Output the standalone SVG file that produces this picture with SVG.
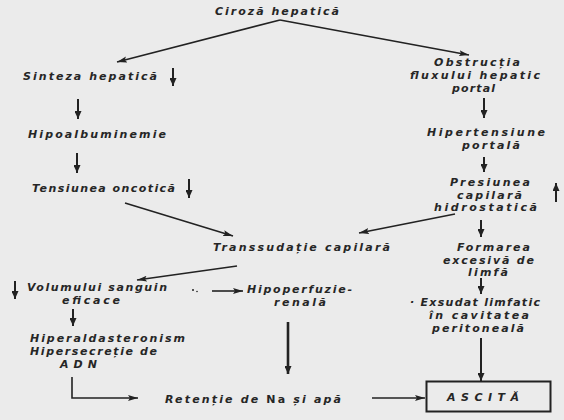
<svg xmlns="http://www.w3.org/2000/svg" width="564" height="420" viewBox="0 0 564 420">
<defs>
<marker id="ah" markerUnits="userSpaceOnUse" markerWidth="11" markerHeight="7" refX="10" refY="3.5" orient="auto">
<path d="M0,0.5 L10,3.5 L0,6.5 L2,3.5 z" fill="#222"/>
</marker>
<marker id="ahs" markerUnits="userSpaceOnUse" markerWidth="9" markerHeight="7" refX="8" refY="3.5" orient="auto">
<path d="M0,0 L8,3.5 L0,7 z" fill="#222"/>
</marker>
<style>
text{font-family:"DejaVu Sans","Liberation Sans",sans-serif;font-style:oblique;font-weight:bold;font-size:11px;fill:#262626;}
.c{stroke:#222;stroke-width:1.6;fill:none;}
.t{stroke:#222;stroke-width:2;fill:none;}
.k{stroke:#222;stroke-width:2.6;fill:none;}
.up{font-style:normal;}
</style>
</defs>
<rect width="564" height="420" fill="#ebebeb"/>

<g id="ciroza"><text x="215" y="15" textLength="124" lengthAdjust="spacing">Ciroză hepatică</text></g>

<g id="sinteza"><text x="23" y="80" textLength="134" lengthAdjust="spacing">Sinteza hepatică</text>
<line class="t" x1="173" y1="68" x2="173" y2="86" marker-end="url(#ahs)"/></g>

<g id="hipoalb"><text x="28" y="138" textLength="138" lengthAdjust="spacing">Hipoalbuminemie</text></g>

<g id="tensiunea"><text x="32" y="192" textLength="143" lengthAdjust="spacing">Tensiunea oncotică</text>
<line class="t" x1="189" y1="179" x2="189" y2="198" marker-end="url(#ahs)"/></g>

<g id="transsudatie"><text x="213" y="251" textLength="177" lengthAdjust="spacing">Transsudație capilară</text></g>

<g id="volumul"><text x="27" y="291" textLength="140" lengthAdjust="spacing">Volumului sanguin</text>
<text x="62" y="304" textLength="58" lengthAdjust="spacing">eficace</text>
<line class="t" x1="15" y1="281" x2="15" y2="299" marker-end="url(#ahs)"/></g>

<g id="hipoperfuzie"><text x="247" y="293" textLength="105" lengthAdjust="spacing">Hipoperfuzie-</text>
<text x="274" y="306" textLength="52" lengthAdjust="spacing">renală</text></g>

<g id="hiperald"><text x="30" y="342" textLength="155" lengthAdjust="spacing">Hiperaldasteronism</text>
<text x="30" y="355" textLength="127" lengthAdjust="spacing">Hipersecreție de</text>
<text x="60" y="368" textLength="37" lengthAdjust="spacing">ADN</text></g>

<g id="retentie"><text x="165" y="403" textLength="176" lengthAdjust="spacing">Retenție de <tspan class="up">Na</tspan> și apă</text></g>

<g id="obstructia"><text x="434" y="66" textLength="86" lengthAdjust="spacing">Obstrucția</text>
<text x="410" y="79" textLength="130" lengthAdjust="spacing">fluxului hepatic</text>
<text x="452" y="92" textLength="43" lengthAdjust="spacing">portal</text></g>

<g id="hipertensiune"><text x="427" y="136" textLength="118" lengthAdjust="spacing">Hipertensiune</text>
<text x="462" y="149" textLength="58" lengthAdjust="spacing">portală</text></g>

<g id="presiunea"><text x="450" y="186" textLength="80" lengthAdjust="spacing">Presiunea</text>
<text x="457" y="198.5" textLength="65" lengthAdjust="spacing">capilară</text>
<text x="434" y="211" textLength="103" lengthAdjust="spacing">hidrostatică</text>
<line class="t" x1="556" y1="202" x2="556" y2="183" marker-end="url(#ahs)"/></g>

<g id="formarea"><text x="457" y="251" textLength="73" lengthAdjust="spacing">Formarea</text>
<text x="443" y="263.5" textLength="91" lengthAdjust="spacing">excesivă de</text>
<text x="468" y="276" textLength="40" lengthAdjust="spacing">limfă</text></g>

<g id="exsudat"><text x="410" y="306" textLength="130" lengthAdjust="spacing">· Exsudat limfatic</text>
<text x="429" y="319" textLength="100" lengthAdjust="spacing">în cavitatea</text>
<text x="432" y="332" textLength="92" lengthAdjust="spacing">peritoneală</text></g>

<g id="ascita"><rect x="426.5" y="381.5" width="124" height="30" fill="none" stroke="#222" stroke-width="2"/>
<text x="447" y="401" textLength="72" lengthAdjust="spacing">ASCITĂ</text></g>

<g id="connectors">
<line class="c" x1="280" y1="20" x2="117" y2="62" marker-end="url(#ah)"/>
<line class="c" x1="280" y1="20" x2="469" y2="55" marker-end="url(#ah)"/>
<line class="t" x1="78" y1="99" x2="78" y2="119" marker-end="url(#ahs)"/>
<line class="t" x1="77" y1="153" x2="77" y2="173" marker-end="url(#ahs)"/>
<line class="c" x1="125" y1="203" x2="233" y2="236" marker-end="url(#ah)"/>
<line class="c" x1="455" y1="214" x2="359" y2="233" marker-end="url(#ah)"/>
<line class="c" x1="237" y1="266" x2="137" y2="280" marker-end="url(#ah)"/>
<circle cx="193" cy="290" r="1" fill="#222"/>
<circle cx="197" cy="291.5" r="0.8" fill="#222"/>
<line class="c" x1="212" y1="291" x2="243" y2="291" marker-end="url(#ah)"/>
<line class="k" x1="288" y1="322" x2="288" y2="374" marker-end="url(#ahs)"/>
<line class="t" x1="73" y1="309" x2="73" y2="326" marker-end="url(#ahs)"/>
<polyline class="c" points="72,377 72,398 138,398" marker-end="url(#ah)"/>
<line class="c" x1="372" y1="398" x2="425" y2="398" marker-end="url(#ah)"/>
<line class="t" x1="484" y1="98" x2="484" y2="118" marker-end="url(#ahs)"/>
<line class="t" x1="484" y1="157" x2="484" y2="172" marker-end="url(#ahs)"/>
<line class="t" x1="481" y1="220" x2="481" y2="237" marker-end="url(#ahs)"/>
<line class="t" x1="481" y1="278" x2="481" y2="294" marker-end="url(#ahs)"/>
<line class="t" x1="481" y1="338" x2="481" y2="381" marker-end="url(#ahs)"/>
</g>
</svg>
